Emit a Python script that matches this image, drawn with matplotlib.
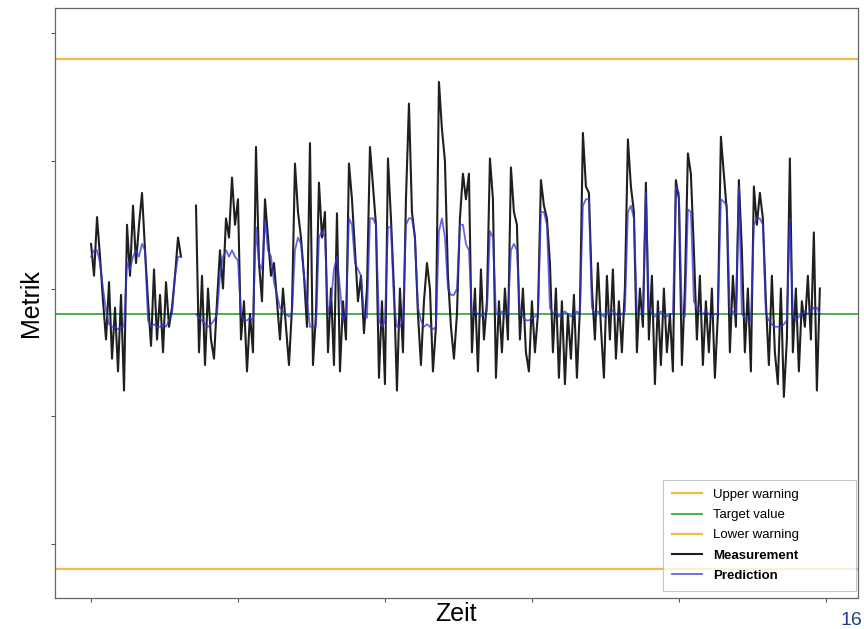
import numpy as np
import matplotlib
matplotlib.use("Agg")
import matplotlib.pyplot as plt

plt.rcParams['font.family'] = ['Liberation Sans', 'DejaVu Sans']

nan = np.nan
measurement = [
    0.55, 0.30, 0.76, 0.45,
    0.10, -0.20,
    0.25, -0.35, 0.05, -0.45, 0.15, -0.60,
    0.70, 0.30, 0.85, 0.40, 0.70, 0.95, 0.50,
    0.10, -0.25, 0.35, -0.20, 0.15, -0.30, 0.25, -0.10, 0.05,
    0.30, 0.60, 0.45,
    nan, nan, nan, nan,
    0.85,
    -0.30, 0.30, -0.40, 0.20, -0.20, -0.35, 0.10,
    0.50, 0.20, 0.75, 0.60, 1.07, 0.70, 0.90,
    -0.20, 0.10, -0.45, 0.00, -0.30,
    1.31, 0.40, 0.10, 0.90, 0.60, 0.30,
    0.40, 0.10, -0.20, 0.20, -0.10, -0.40, 0.05,
    1.18, 0.80, 0.60,
    0.30, -0.10,
    1.34,
    -0.40, 0.00,
    1.03, 0.60, 0.80,
    -0.30, 0.20, -0.40, 0.79, -0.45, 0.10, -0.20,
    1.18, 0.90,
    0.50, 0.10, 0.30, -0.15, 0.20,
    1.31, 1.00, 0.70,
    -0.50, 0.10, -0.55,
    1.22, 0.75,
    0.20,
    -0.60, 0.20, -0.30,
    0.90, 1.65, 0.80, 0.60,
    0.00, -0.40, 0.10, 0.40, 0.20, -0.45, -0.10,
    1.82, 1.45, 1.20,
    0.30, -0.10, -0.35, 0.00,
    0.75, 1.10, 0.90, 1.10,
    -0.30, 0.20, -0.45, 0.35, -0.20, 0.10,
    1.22, 0.90,
    -0.50, 0.10, -0.30, 0.20, -0.20,
    1.15, 0.80, 0.70,
    -0.20, 0.20, -0.30, -0.45, 0.10, -0.30, 0.00,
    1.05, 0.85, 0.75,
    0.40, -0.30, 0.20, -0.50, 0.10, -0.55, 0.00, -0.35, 0.15, -0.50, 0.05,
    1.42, 1.00, 0.95,
    0.20, -0.20, 0.40, -0.10, -0.50, 0.30, -0.20, 0.35, -0.35, 0.10, -0.30, 0.20,
    1.37, 1.00, 0.80,
    -0.30, 0.20, -0.10,
    1.03,
    -0.20, 0.30, -0.55, 0.10, -0.40, 0.20, -0.30, 0.00, -0.45,
    1.05, 0.90,
    -0.40, 0.20,
    1.26, 1.10,
    0.50, -0.20, 0.30, -0.40, 0.10, -0.30, 0.20, -0.50, 0.00,
    1.39, 1.10, 0.80,
    -0.30, 0.30, -0.10,
    1.05,
    0.50, -0.30, 0.20, -0.45,
    1.00, 0.70, 0.95, 0.75,
    0.10, -0.40, 0.30, -0.30, -0.55, 0.20, -0.65, -0.20,
    1.22,
    -0.30, 0.20, -0.45, 0.10, -0.10, 0.30, -0.20, 0.64, -0.60, 0.20,
]

prediction = [
    0.45, 0.50, 0.50, 0.40,
    0.20, 0.03,
    -0.08, -0.10, -0.10, -0.12, -0.10, -0.10,
    0.40, 0.35, 0.45, 0.50, 0.45, 0.55, 0.50,
    -0.05, -0.10, -0.08, -0.10, -0.10, -0.08, -0.10, -0.05, 0.00,
    0.30, 0.45, 0.45,
    nan, nan, nan, nan,
    0.00,
    -0.03, -0.05, -0.08, -0.10, -0.08, -0.05, 0.00,
    0.30, 0.45, 0.50, 0.45, 0.50, 0.45, 0.42,
    0.00, -0.05, -0.05, -0.03, -0.05,
    0.68, 0.40, 0.35, 0.74, 0.50, 0.45,
    0.25, 0.15, 0.05, 0.02, 0.00, -0.02, 0.00,
    0.50, 0.60, 0.55,
    0.30, 0.10,
    -0.10,
    -0.10, -0.10,
    0.60, 0.65, 0.60,
    0.00, 0.10, 0.35, 0.45, 0.20, -0.05, 0.00,
    0.75, 0.70,
    0.40, 0.35, 0.30, 0.00, -0.03,
    0.75, 0.75, 0.70,
    -0.05, -0.10, -0.05,
    0.68, 0.68,
    0.10,
    -0.10, -0.10, -0.05,
    0.70, 0.75, 0.75, 0.60,
    0.05, -0.05, -0.10, -0.08, -0.10, -0.12, -0.10,
    0.65, 0.75, 0.60,
    0.20, 0.15, 0.15, 0.20,
    0.70, 0.70, 0.55, 0.50,
    0.00, 0.02, 0.00, -0.02, 0.00, 0.02,
    0.65, 0.60,
    0.00, 0.00, 0.02, 0.00, 0.00,
    0.50, 0.55, 0.50,
    0.00, -0.02, -0.05, -0.05, -0.03, -0.02, 0.00,
    0.80, 0.80, 0.70,
    0.05, 0.00, 0.02, -0.02, 0.00, 0.02, 0.00, -0.02, 0.00, 0.02, 0.00,
    0.85, 0.90, 0.90,
    0.05, 0.00, 0.02, 0.00, -0.02, 0.02, 0.00, 0.03, 0.00, -0.02, 0.00, 0.02,
    0.80, 0.85, 0.75,
    0.02, 0.00, 0.00,
    0.95,
    0.05, 0.00, -0.02, 0.00, 0.02, 0.00, -0.02, 0.00, 0.00,
    1.00, 0.95,
    0.00, -0.02,
    0.82, 0.80,
    0.10, 0.05, 0.02, 0.00, 0.02, 0.00, -0.02, 0.00, 0.00,
    0.90, 0.88, 0.85,
    0.00, 0.02, 0.00,
    1.00,
    0.00, -0.03, -0.05, -0.05,
    0.70, 0.75, 0.75, 0.70,
    0.00, -0.05, -0.08, -0.10, -0.10, -0.10, -0.08, -0.05,
    0.75,
    0.00, -0.05, -0.02, 0.00, 0.02, 0.00, 0.02, 0.05, 0.05, 0.00,
]

upper_warning = 2.0
target_value = 0.0
lower_warning = -2.0
labels = ["Upper warning", "Target value", "Lower warning", "Measurement", "Prediction"]

assert len(measurement) == len(prediction)
t = np.arange(len(measurement))

fig = plt.figure(figsize=(8.64, 6.29), dpi=100)
ax = fig.add_axes([0.0637, 0.0493, 0.9293, 0.9380])

ax.axhline(upper_warning, color="#f5b84a", lw=1.6, label=labels[0])
ax.axhline(target_value, color="#4caf50", lw=1.4, label=labels[1])
ax.axhline(lower_warning, color="#f5b84a", lw=1.6, label=labels[2])
ax.plot(t, measurement, color="black", lw=1.5, alpha=0.88, label=labels[3])
ax.plot(t, prediction, color="#3333dd", lw=1.3, alpha=0.75, label=labels[4])

ax.set_xlim(-12, 255.7)
ax.set_ylim(-2.227, 2.40)
ax.set_xticks([0, 49, 98, 147, 196, 245])
ax.set_yticks([2.2, 1.2, 0.2, -0.8, -1.8])
ax.tick_params(length=3, width=0.8, color="#555555", labelbottom=False, labelleft=False)
for s in ax.spines.values():
    s.set_color("#666666")
    s.set_linewidth(0.9)

ax.set_xlabel("Zeit", fontsize=18, labelpad=0)
ax.set_ylabel("Metrik", fontsize=18, labelpad=6)

leg = ax.legend(loc="lower left", bbox_to_anchor=(0.757, 0.012, 0.241, 0.18),
                mode="expand", borderaxespad=0, fontsize=9.5, frameon=True,
                fancybox=False, edgecolor="#bbbbbb", handlelength=2.3,
                handletextpad=0.8, labelspacing=0.6, borderpad=0.7)
leg.get_frame().set_linewidth(0.8)
for txt in leg.get_texts()[3:]:
    txt.set_fontweight("bold")

fig.text(0.998, 0.0, "16", fontsize=14, color="#1f3f8f", ha="right", va="bottom")

fig.savefig("out.png", dpi=100)
